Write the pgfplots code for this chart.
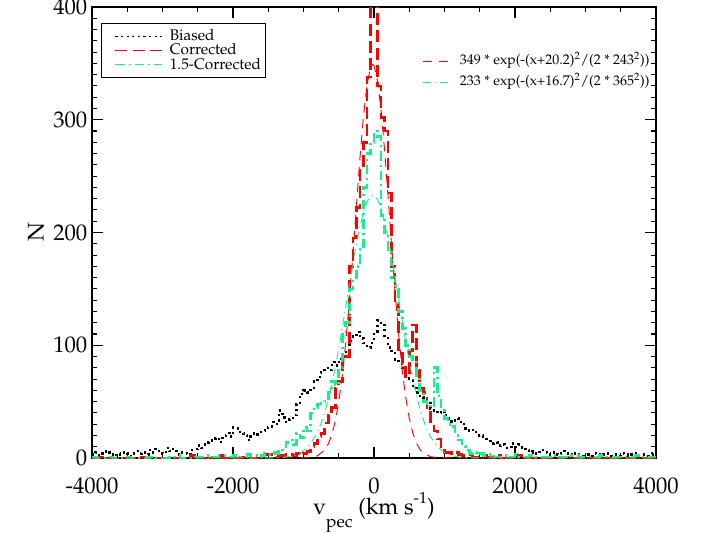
\documentclass[border=0pt]{standalone}
\usepackage[T1]{fontenc}
\usepackage{mathpazo}
\usepackage{pgfplots}
\usepackage{pgfplotstable}
\pgfplotsset{compat=1.18}
\definecolor{cgreen}{RGB}{20,240,140}

\pgfplotstableread{
x y
-4000 3
-3950 5
-3900 2
-3850 4
-3800 6
-3750 3
-3700 2
-3650 4
-3600 3
-3550 5
-3500 4
-3450 2
-3400 6
-3350 4
-3300 5
-3250 3
-3200 7
-3150 5
-3100 8
-3050 6
-3000 4
-2950 9
-2900 6
-2850 8
-2800 3
-2750 5
-2700 4
-2650 3
-2600 7
-2550 8
-2500 11
-2450 9
-2400 12
-2350 14
-2300 16
-2250 18
-2200 14
-2150 20
-2100 22
-2050 19
-2000 27
-1950 26
-1900 22
-1850 20
-1800 16
-1750 19
-1700 22
-1650 21
-1600 24
-1550 27
-1500 28
-1450 32
-1400 30
-1350 42
-1300 36
-1250 32
-1200 34
-1150 38
-1100 48
-1050 57
-1000 60
-950 58
-900 62
-850 68
-800 72
-750 76
-700 80
-650 78
-600 85
-550 82
-500 88
-450 92
-400 95
-350 104
-300 108
-250 112
-200 106
-150 102
-100 98
-50 102
0 110
50 122
100 118
150 108
200 98
250 93
300 87
350 84
400 80
450 76
500 70
550 62
600 58
650 54
700 50
750 49
800 44
850 42
900 40
950 42
1000 38
1050 35
1100 32
1150 35
1200 32
1250 30
1300 26
1350 24
1400 25
1450 20
1500 20
1550 17
1600 15
1650 13
1700 14
1750 11
1800 12
1850 9
1900 10
1950 13
2000 10
2050 12
2100 9
2150 7
2200 5
2250 6
2300 4
2350 7
2400 5
2450 4
2500 3
2550 5
2600 3
2650 4
2700 6
2750 3
2800 2
2850 4
2900 3
2950 2
3000 3
3050 2
3100 4
3150 3
3200 2
3250 3
3300 4
3350 2
3400 3
3450 2
3500 4
3550 3
3600 2
3650 3
3700 4
3750 2
3800 3
3850 2
3900 3
3950 4
4000 4
}\biased

\pgfplotstableread{
x y
-4000 0
-3900 1
-3850 0
-3300 1
-3250 0
-2650 2
-2550 1
-2500 0
-2300 1
-2200 2
-2150 0
-1900 1
-1800 2
-1750 0
-1550 3
-1450 1
-1350 2
-1250 3
-1150 2
-1100 4
-1050 3
-1000 4
-950 6
-900 10
-850 13
-800 19
-750 22
-700 31
-650 38
-600 45
-550 62
-500 68
-450 88
-400 90
-350 170
-300 195
-250 222
-200 255
-150 280
-100 338
-50 420
0 420
50 330
100 302
150 290
200 235
250 170
300 138
350 95
400 84
450 72
500 95
550 118
600 78
650 62
700 58
750 42
800 30
850 24
900 17
950 10
1000 5
1050 5
1100 4
1150 5
1200 3
1250 2
1300 3
1350 3
1400 1
1500 2
1600 1
1700 2
1800 0
1900 1
2000 2
2100 0
2300 1
2400 0
2700 1
2800 0
4000 0
}\corrected

\pgfplotstableread{
x y
-4000 1
-3950 0
-3800 1
-3700 0
-3500 1
-3450 0
-3200 1
-3100 0
-2900 1
-2800 2
-2750 0
-2600 1
-2400 2
-2300 1
-2200 2
-2100 1
-2000 2
-1900 1
-1800 3
-1750 2
-1650 1
-1600 2
-1550 4
-1500 3
-1450 5
-1400 4
-1350 6
-1300 10
-1250 14
-1200 16
-1150 12
-1100 22
-1050 18
-1000 27
-950 24
-900 40
-850 45
-800 48
-750 50
-700 53
-650 58
-600 68
-550 65
-500 80
-450 112
-400 120
-350 150
-300 158
-250 170
-200 185
-150 240
-100 270
-50 280
0 290
50 285
100 215
150 200
200 185
250 160
300 150
350 130
400 115
450 100
500 90
550 85
600 70
650 60
700 50
750 48
800 45
850 80
900 55
950 42
1000 35
1050 30
1100 28
1150 20
1200 16
1250 10
1300 7
1350 4
1400 5
1450 3
1500 4
1550 2
1650 3
1700 1
1800 2
1900 1
2000 3
2050 1
2200 2
2300 1
2500 2
2600 1
2800 2
2900 1
3200 2
3300 1
3500 1
3700 2
3800 1
4000 1
}\onefive

\begin{document}
\begin{tikzpicture}
\path[use as bounding box] (-69pt,-55.5pt) rectangle (460.5pt,343.5pt);
\pgfplotsset{
  myaxis/.style={
    scale only axis, width=423pt, height=338.25pt,
    xmin=-4000, xmax=4000, ymin=0, ymax=400,
    at={(0pt,0pt)}, anchor=south west,
  },
}
\begin{axis}[
  myaxis,
  xtick={-4000,-2000,0,2000,4000},
  xticklabels={-4000,-2000,0,2000,4000},
  ytick={0,100,200,300,400},
  yticklabels={0,100,200,300,400},
  minor x tick num=3,
  minor y tick num=9,
  tick align=inside,
  major tick length=8pt, minor tick length=4pt,
  every tick/.style={black, line width=0.8pt},
  axis line style={line width=1pt},
  ticklabel style={font=\fontsize{17}{20}\selectfont},
  xticklabel style={yshift=-11pt},
  label style={font=\fontsize{17}{20}\selectfont},
  xlabel={v\raisebox{-10pt}{\fontsize{13}{13}\selectfont pec} (km s\raisebox{8pt}{\fontsize{12}{12}\selectfont -1})},
  xlabel style={at={(axis description cs:0.5,0)}, anchor=base, yshift=-42pt},
  ylabel={N},
  legend image code/.code={\path[draw=none,fill=none] (0pt,0pt) -- (9pt,0pt); \draw[#1,line width=0.6pt] (9pt,0pt) -- (44pt,0pt);},
  legend style={at={(0.016,0.9645)}, anchor=north west, draw=black, line width=0.6pt,
    font=\fontsize{11.5}{12}\selectfont, cells={anchor=west}, row sep=-3pt,
    inner xsep=1.5pt, inner ysep=2.5pt,
    /tikz/every odd column/.append style={column sep=3.5pt}},
]
\addplot[const plot, black, line width=1.8pt, dash pattern=on 1.6pt off 2.6pt] table {\biased};
\addlegendentry{Biased}
\addplot[const plot, red, line width=2pt, dash pattern=on 9pt off 4pt] table {\corrected};
\addlegendentry{Corrected}
\addplot[const plot, cgreen, line width=2pt, dash pattern=on 7pt off 3pt on 1.5pt off 3pt] table {\onefive};
\addlegendentry{1.5-Corrected}
\end{axis}
\begin{axis}[myaxis, hide axis,
  legend style={at={(0.578,0.857)}, anchor=west, draw=none, fill=none,
    font=\fontsize{10.5}{12}\selectfont, cells={anchor=west},
    nodes={text height=7.5pt, text depth=2.5pt, inner ysep=0pt},
    row sep=5.75pt},
  /pgfplots/legend image code/.code={\draw[#1,line width=0.6pt] (0pt,0pt) -- (21pt,0pt); \path[draw=none,fill=none] (21pt,0pt) -- (26pt,0pt);},
]
\addplot[red, line width=0.7pt, dash pattern=on 7pt off 5pt] coordinates {
(-4000,0) (-1200,0) (-1000,0.1) (-900,0.5) (-800,2.0) (-700,7.0) (-650,12.1) (-600,20.3)
(-550,32.4) (-500,49.7) (-450,73.0) (-400,102.9) (-350,138.9) (-300,179.9) (-250,223.2)
(-200,265.4) (-150,302.6) (-100,330.7) (-50,346.4) (-20,349) (0,347.8) (50,334.7)
(100,308.8) (150,273.1) (200,231.5) (250,188.1) (300,146.5) (350,109.4) (400,78.3)
(450,53.7) (500,35.3) (550,22.2) (600,13.4) (650,7.8) (700,4.3) (800,1.2) (900,0.3)
(1000,0.05) (1200,0) (4000,0)};
\addlegendentry{349 * exp(-(x+20.2)\textsuperscript{2}/(2 * 243\textsuperscript{2}))}
\addplot[cgreen, line width=0.7pt, dash pattern=on 6pt off 3pt on 1pt off 3pt] coordinates {
(-4000,0) (-1600,0.02) (-1400,0.18) (-1300,0.48) (-1200,1.22) (-1100,2.85) (-1000,6.18)
(-900,12.5) (-800,23.3) (-750,30.9) (-700,40.4) (-650,51.7) (-600,65.0) (-550,80.2)
(-500,97.0) (-450,115.8) (-400,134.3) (-350,153.5) (-300,172.4) (-250,190.0) (-200,205.4)
(-150,218.0) (-100,227.0) (-50,232.0) (0,232.8) (50,229.1) (100,221.4) (150,209.9)
(200,195.3) (250,178.5) (300,159.9) (350,140.7) (400,121.4) (450,103.4) (500,85.5)
(550,69.9) (600,55.9) (650,43.9) (700,33.9) (750,25.7) (800,19.1) (900,9.95) (1000,4.81)
(1100,2.16) (1200,0.90) (1300,0.35) (1400,0.12) (1600,0.01) (4000,0)};
\addlegendentry{233 * exp(-(x+16.7)\textsuperscript{2}/(2 * 365\textsuperscript{2}))}
\end{axis}
\end{tikzpicture}
\end{document}
